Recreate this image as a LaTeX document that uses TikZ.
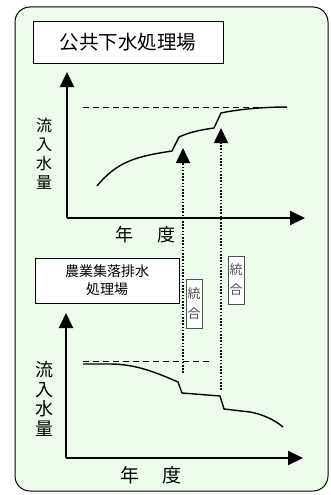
\documentclass[tikz,border=0pt]{standalone}
\usepackage{fontspec}
\newfontfamily\jp{Noto Sans CJK JP}
\usetikzlibrary{arrows.meta}
\definecolor{bgfill}{RGB}{236,253,236}
\definecolor{labgray}{RGB}{80,80,80}
\tikzset{
  axis/.style={line width=2pt,-{Triangle[length=15pt,width=14pt]}},
  curve/.style={line width=1.4pt},
  refline/.style={line width=1pt,dash pattern=on 6pt off 4pt},
  dotarrow/.style={line width=1.6pt,dash pattern=on 1.6pt off 1.6pt,-{Triangle[length=15pt,width=14pt]}},
  titlebox/.style={draw,line width=0.8pt,fill=white,inner sep=0pt},
  mergebox/.style={draw=labgray,line width=0.7pt,fill=white,inner sep=0pt,text=labgray},
  lab/.style={inner sep=0pt},
}
\begin{document}
\begin{tikzpicture}[x=1pt,y=-1pt]
\useasboundingbox (0,0) rectangle (331,495);
% outer panel
\draw[line width=1pt,fill=bgfill,rounded corners=15pt] (15,7) rectangle (328,491);
% upper title
\node[titlebox,minimum width=190pt,minimum height=42pt,font=\jp\fontsize{19.5pt}{22pt}\selectfont] (t1) at (128,42)
  {公共下水処理場};
% upper axes
\coordinate (o1) at (67,218);
\coordinate (y1) at (67,72);
\coordinate (x1) at (305,218);
\draw[axis] (o1) -- (y1);
\draw[axis] (o1) -- (x1);
\node[lab,align=center,font=\jp\fontsize{16pt}{19pt}\selectfont] (yl1) at (44,154) {流\\入\\水\\量};
\node[lab,font=\jp\fontsize{18pt}{20pt}\selectfont] (xa1) at (124,235) {年};
\node[lab,font=\jp\fontsize{18pt}{20pt}\selectfont] (xb1) at (166,235) {度};
% upper dashed
\coordinate (d1a) at (83,107);
\coordinate (d1b) at (287,107);
\draw[refline] (d1a) -- (d1b);
% upper curve
\draw[curve] (97,186) .. controls (118,160) and (140,156) .. (172,151)
  -- (179,137) .. controls (190,132) and (200,130) .. (214,128)
  -- (221,113) .. controls (240,109) and (265,107) .. (287,107);
% lower title
\node[titlebox,minimum width=144pt,minimum height=45pt,align=center,font=\jp\fontsize{14pt}{18pt}\selectfont] (t2) at (107,280.5)
  {農業集落排水\\処理場};
% lower axes
\coordinate (o2) at (66,458);
\coordinate (y2) at (66,313);
\coordinate (x2) at (303,458);
\draw[axis] (o2) -- (y2);
\draw[axis] (o2) -- (x2);
\node[lab,align=center,font=\jp\fontsize{18pt}{19.5pt}\selectfont] (yl2) at (44,399) {流\\入\\水\\量};
\node[lab,font=\jp\fontsize{19pt}{20pt}\selectfont] (xa2) at (130,475) {年};
\node[lab,font=\jp\fontsize{19pt}{20pt}\selectfont] (xb2) at (172,475) {度};
% lower dashed
\coordinate (d2a) at (83,361);
\coordinate (d2b) at (212,361);
\draw[refline] (d2a) -- (d2b);
% lower curve
\draw[curve] (83,364) -- (110,364) .. controls (135,364) and (155,372) .. (178,382)
  -- (182,393) -- (220,396) -- (224,409) -- (250,412)
  .. controls (262,414) and (275,420) .. (283,427);
% merge arrows
\coordinate (m1s) at (183,373);
\coordinate (m1e) at (183,148);
\coordinate (m2s) at (221,390);
\coordinate (m2e) at (221,128);
\draw[dotarrow] (m1s) -- (m1e);
\draw[dotarrow] (m2s) -- (m2e);
% merge labels
\node[mergebox,minimum width=16pt,minimum height=49pt,align=center,font=\jp\fontsize{13pt}{20pt}\selectfont] (g1) at (194,303.5)
  {統\\合};
\node[mergebox,minimum width=16pt,minimum height=48pt,align=center,font=\jp\fontsize{13pt}{20pt}\selectfont] (g2) at (236,280)
  {統\\合};
\end{tikzpicture}
\end{document}
